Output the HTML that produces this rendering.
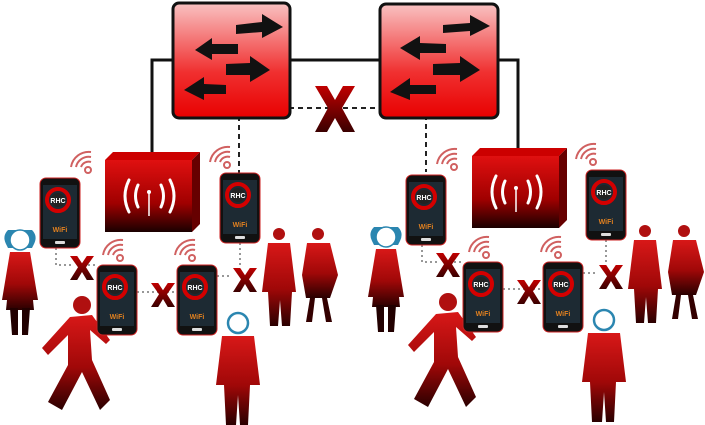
<!DOCTYPE html>
<html><head><meta charset="utf-8"><style>
html,body{margin:0;padding:0;background:#fff;width:705px;height:425px;overflow:hidden}
svg{display:block}
text{font-family:"Liberation Sans",sans-serif;font-weight:bold}
</style></head><body>
<svg width="705" height="425" viewBox="0 0 705 425" xmlns="http://www.w3.org/2000/svg">
<defs>
<linearGradient id="sw" x1="0" y1="0" x2="0" y2="1"><stop offset="0" stop-color="#f9c2c2"/><stop offset="0.6" stop-color="#f03030"/><stop offset="1" stop-color="#e80000"/></linearGradient>
<linearGradient id="rd" x1="0" y1="0" x2="0" y2="1"><stop offset="0" stop-color="#d81818"/><stop offset="0.55" stop-color="#a00808"/><stop offset="1" stop-color="#2a0000"/></linearGradient>
<linearGradient id="ap" x1="0" y1="0" x2="0" y2="1"><stop offset="0" stop-color="#e01010"/><stop offset="0.6" stop-color="#a00000"/><stop offset="1" stop-color="#1a0000"/></linearGradient>
<linearGradient id="xg" x1="0" y1="0" x2="0" y2="1"><stop offset="0" stop-color="#c00000"/><stop offset="1" stop-color="#3a0000"/></linearGradient>
<g id="phone">
<rect x="0" y="0" width="40" height="70" rx="6" fill="#111" stroke="#c22" stroke-width="1"/>
<rect x="3" y="7" width="34" height="54" fill="#1d2a33"/>
<circle cx="18" cy="22" r="11" fill="none" stroke="#d40000" stroke-width="4"/>
<circle cx="18" cy="22" r="7" fill="#222"/>
<text x="18" y="25" font-size="7" fill="#fff" text-anchor="middle">RHC</text>
<text x="20" y="54" font-size="7" fill="#e08020" text-anchor="middle">WiFi</text>
<rect x="15" y="63" width="10" height="3" rx="1" fill="#ddd"/>
</g>
<g id="waves" fill="none" stroke="#d06060" stroke-width="2">
<circle cx="0" cy="0" r="3"/>
<path d="M-7 -3 A8 8 0 0 1 3 -8"/><path d="M-12 -3 A13 13 0 0 1 3 -13"/><path d="M-17 -3 A18 18 0 0 1 3 -18"/>
</g>
<g id="X"><path d="M0 0h9l6 9 6-9h9l-10 14 10 16h-9l-6-10-6 10h-9l10-16z" fill="url(#xg)" transform="translate(3,3) scale(0.8)"/></g>
<g id="ap1">
<path d="M0 8 L8 0 H95 L87 8Z" fill="#c00"/>
<path d="M87 8 L95 0 V72 L87 80Z" fill="#600"/>
<rect x="0" y="8" width="87" height="72" fill="url(#ap)"/>
<g fill="none" stroke="#fff" stroke-width="3" stroke-linecap="round">
<path d="M24 28 Q16 44 24 60"/><path d="M33 33 Q28 44 33 55"/>
<path d="M56 33 Q61 44 56 55"/><path d="M65 28 Q73 44 65 60"/></g>
<line x1="44" y1="40" x2="44" y2="64" stroke="#fff" stroke-width="1.5"/><circle cx="44" cy="40" r="2" fill="#fff"/>
</g>
<g id="grp">
<path d="M8 230 Q2 236 6 244 L8 248 H32 L34 244 Q38 236 32 230Z" fill="#2b86b0"/>
<ellipse cx="20" cy="240" rx="10" ry="10" fill="#fff" stroke="#2b86b0" stroke-width="1.5"/>
<path d="M10 252 L30 252 L38 300 L33 300 L34 310 H6 L7 300 L2 300Z" fill="url(#rd)"/>
<path d="M10 308 H18 V335 H12Z M22 308 H30 L28 335 H22Z" fill="#200"/>
<circle cx="82" cy="305" r="9" fill="#b01010"/>
<path d="M70 317 L92 315 L110 340 L106 344 L90 330 L92 360 L110 400 L100 410 L82 372 L62 410 L48 402 L68 365 L68 335 L48 355 L42 348Z" fill="url(#rd)"/>
<circle cx="238" cy="323" r="10" fill="#fff" stroke="#2b86b0" stroke-width="2.5"/>
<path d="M222 336 H254 L260 385 H250 L248 425 H240 L238 395 L236 425 H226 L224 385 H216Z" fill="url(#rd)"/>
<circle cx="279" cy="234" r="6" fill="#b01010"/>
<path d="M268 243 H290 L296 292 H292 L290 326 H282 L280 300 L278 326 H270 L268 292 H262Z" fill="url(#rd)"/>
<circle cx="318" cy="234" r="6" fill="#b01010"/>
<path d="M307 243 H330 L338 275 L330 298 H306 L302 275Z" fill="url(#rd)"/>
<path d="M310 298 H315 L312 322 H306Z M322 298 H327 L332 322 H326Z" fill="#300"/>
<g fill="none" stroke="#777" stroke-width="1.5" stroke-dasharray="2 3">
<path d="M56 248 V265 H72 M78 265 H97"/>
<path d="M137 292 H178"/>
<path d="M217 276 H232 M240 243 V265"/>
</g>
<use href="#phone" x="40" y="178"/>
<use href="#phone" x="220" y="173"/>
<use href="#phone" x="97" y="265"/>
<use href="#phone" x="177" y="265"/>
<use href="#waves" x="88" y="170"/>
<use href="#waves" x="227" y="165"/>
<use href="#waves" x="120" y="258"/>
<use href="#waves" x="192" y="258"/>
<use href="#X" x="67" y="253"/>
<use href="#X" x="148" y="280"/>
<use href="#X" x="230" y="265"/>
</g>
</defs>
<path d="M152 152 V60 H518 V148" fill="none" stroke="#111" stroke-width="3"/>
<path d="M239 175 V108 H426 V172" fill="none" stroke="#222" stroke-width="2" stroke-dasharray="5 4"/>
<g>
<rect x="173" y="3" width="117" height="115" rx="6" fill="url(#sw)" stroke="#111" stroke-width="3"/>
<g fill="#111">
<path d="M236 25 L262 22 V14 L283 27 L262 38 V32 L236 34Z"/>
<path d="M238 44 L212 44 V38 L195 50 L212 60 V54 L238 54Z"/>
<path d="M226 64 L250 63 V56 L270 70 L250 82 V75 L226 75Z"/>
<path d="M226 85 L204 84 V77 L184 90 L204 100 V94 L226 94Z"/>
</g>
<rect x="380" y="4" width="118" height="114" rx="6" fill="url(#sw)" stroke="#111" stroke-width="3"/>
<g fill="#111">
<path d="M443 25 L470 23 V15 L490 26 L470 36 V31 L443 33Z"/>
<path d="M446 44 L420 43 V36 L400 48 L420 60 V53 L446 53Z"/>
<path d="M433 64 L460 63 V56 L480 70 L460 82 V75 L433 75Z"/>
<path d="M436 85 L410 85 V78 L390 92 L410 100 V94 L436 94Z"/>
</g>
</g>
<path d="M315 86 h12 l8 14 8-14 h12 l-13 22 13 24 h-12 l-8-14-8 14 h-12 l13-24z" fill="url(#xg)"/>
<use href="#ap1" x="105" y="152"/>
<use href="#ap1" x="472" y="148"/>
<use href="#grp"/>
<use href="#grp" x="366" y="-3"/>
</svg>
</body></html>
